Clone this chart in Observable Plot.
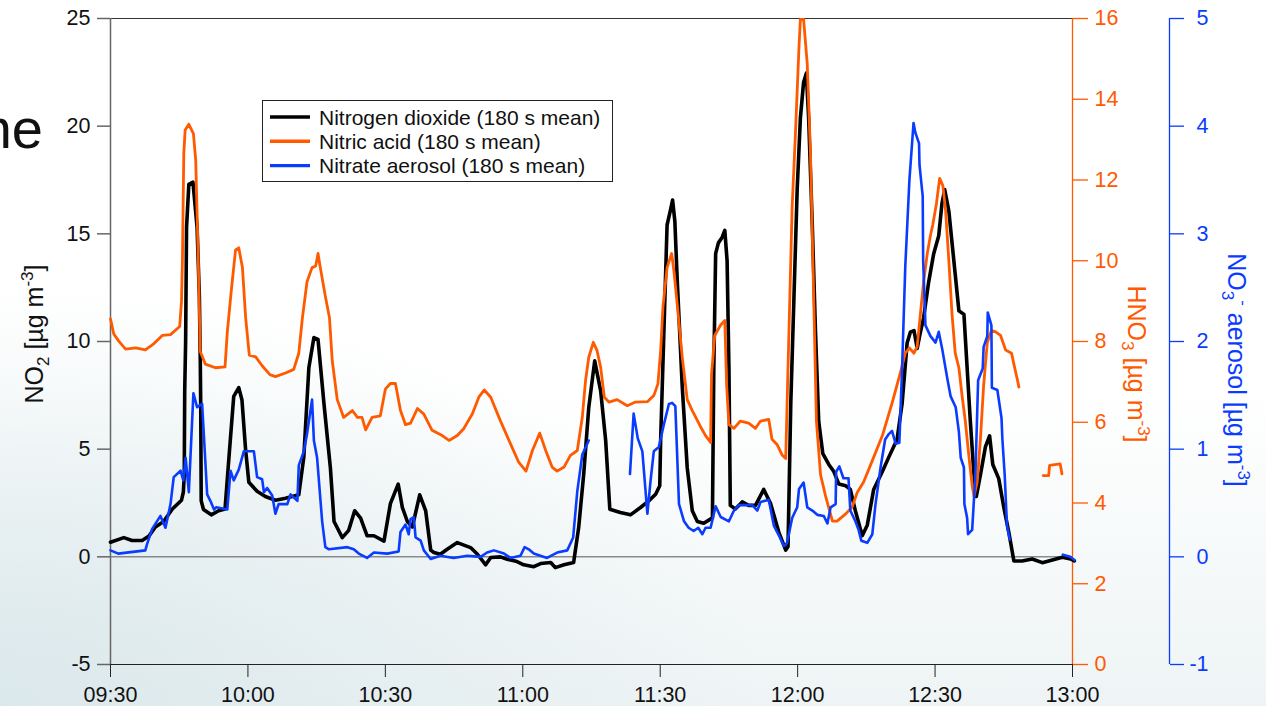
<!DOCTYPE html>
<html><head><meta charset="utf-8">
<script src="https://cdn.jsdelivr.net/npm/d3@7"></script>
<script src="https://cdn.jsdelivr.net/npm/@observablehq/plot@0.6"></script>
<style>
html,body{margin:0;padding:0;width:1266px;height:706px;overflow:hidden;}
body{background:
  radial-gradient(ellipse 760px 420px at 0% 100%, #dbe8eb 0%, rgba(255,255,255,0) 100%),
  linear-gradient(to bottom, #ffffff 0%, #ffffff 55%, #eef4f5 100%);
  font-family:"Liberation Sans", Arial, sans-serif;}
#chart{position:absolute;left:0;top:0;}
</style></head><body><div id="chart"></div>
<script>
// ---- data: [minutes after 09:30, value] ----
const no2Series = [[0,0.68],[2.9,0.89],[4.7,0.76],[6.9,0.76],[8.4,0.97],[9.8,1.39],[11.6,1.64],[13.5,2.22],[15.5,2.63],[15.9,3.0],[16.1,3.8],[16.2,7.7],[16.4,10.0],[16.6,15.3],[17.1,17.3],[18.0,17.4],[18.9,15.3],[19.4,12.1],[19.6,9.1],[19.7,6.9],[19.8,2.6],[20.3,2.2],[22.0,1.95],[23.6,2.14],[25.0,2.22],[25.8,4.46],[26.9,7.45],[28.0,7.86],[28.7,7.28],[29.5,4.96],[30.2,3.46],[32.0,3.05],[33.8,2.80],[36.0,2.63],[38.2,2.72],[41.1,2.88],[42.2,4.63],[43.3,8.78],[44.4,10.18],[45.3,10.10],[46.6,7.11],[48.0,4.13],[48.8,1.64],[50.6,0.89],[52.0,1.23],[53.3,2.14],[54.6,1.80],[56.0,0.98],[57.5,0.98],[59.7,0.73],[61.1,2.47],[62.8,3.38],[63.7,2.30],[64.8,1.64],[65.9,1.39],[67.5,2.88],[68.8,2.14],[69.9,0.31],[70.6,0.2],[72.0,0.12],[73.5,0.35],[75.7,0.66],[78.6,0.43],[80.1,0.12],[81.9,-0.37],[83.0,-0.03],[85.1,0],[86.6,-0.11],[88.5,-0.2],[90.2,-0.37],[92.4,-0.46],[93.9,-0.31],[96.1,-0.26],[97.1,-0.5],[99.0,-0.37],[101.1,-0.26],[102.2,1.36],[103.3,3.84],[104.4,6.93],[105.7,9.10],[107.0,7.71],[108.1,5.39],[109.0,2.21],[111.3,2.06],[113.5,1.95],[115.7,2.29],[117.5,2.6],[119.0,2.91],[119.9,3.30],[120.1,5.45],[120.8,10.43],[121.5,15.41],[122.2,16.07],[122.7,16.57],[123.2,15.57],[123.7,12.92],[124.8,7.94],[125.9,4.13],[127.0,2.14],[128.1,1.64],[129.5,1.56],[131.4,1.81],[131.7,8.77],[132.1,14.08],[132.7,14.58],[133.5,14.83],[134.1,15.16],[134.6,13.75],[135.0,8.77],[135.3,2.39],[136.4,2.22],[137.9,2.55],[139.3,2.39],[140.8,2.39],[142.6,3.13],[144.1,2.47],[145.9,1.14],[147.4,0.31],[147.9,0.48],[148.5,7.11],[149.2,12.09],[149.9,17.07],[150.6,20.38],[151.3,22.04],[151.9,22.46],[152.4,20.38],[153.2,15.41],[153.9,10.43],[154.6,6.28],[155.5,4.79],[156.8,4.29],[157.9,3.96],[159.0,3.38],[160.5,3.30],[161.5,3.13],[162.6,2.14],[164.1,0.98],[165.2,1.47],[166.6,3.13],[168.5,3.96],[169.9,4.63],[171.7,5.45],[172.8,7.11],[173.9,9.93],[174.6,10.43],[175.4,10.51],[176.1,9.68],[176.8,10.43],[177.5,11.10],[178.6,12.76],[179.7,14.08],[180.8,14.91],[181.5,16.40],[182.1,17.06],[183.0,16.07],[184.1,13.75],[185.2,11.43],[186.3,11.26],[187.0,8.77],[187.7,6.28],[188.5,3.80],[189.0,2.80],[189.9,3.80],[191.0,5.12],[191.9,5.62],[192.6,4.29],[193.9,3.63],[195.0,2.30],[196.1,1.14],[197.2,-0.19],[199.0,-0.19],[201.2,-0.10],[203.4,-0.27],[205.6,-0.15],[207.8,-0.02],[209.6,-0.1],[210.4,-0.19]];

const hno3Series = [[0,8.56],[0.7,8.19],[1.8,8.01],[3.3,7.81],[5.5,7.84],[7.6,7.79],[9.5,7.95],[11.3,8.15],[13.1,8.17],[15.1,8.37],[15.5,9.0],[15.7,10.0],[16.0,12.66],[16.3,13.24],[17.1,13.38],[18.1,13.15],[18.6,12.5],[19.1,10.3],[19.6,7.75],[20.7,7.44],[22.9,7.35],[25.0,7.37],[25.5,8.24],[26.4,9.30],[27.3,10.27],[28.0,10.32],[28.8,9.83],[29.5,8.59],[30.3,7.66],[31.7,7.62],[33.1,7.40],[34.8,7.18],[36.0,7.13],[38.2,7.22],[40.0,7.31],[41.1,7.71],[41.9,8.59],[42.9,9.48],[44.0,9.83],[44.8,9.87],[45.3,10.18],[45.8,9.83],[46.9,9.12],[47.8,8.59],[48.4,7.53],[49.5,6.56],[50.9,6.12],[52.8,6.29],[53.9,6.12],[54.9,6.12],[55.7,5.81],[57.1,6.12],[58.9,6.16],[60.0,6.82],[61.1,6.96],[62.2,6.96],[63.3,6.29],[64.4,5.94],[65.5,5.98],[67.0,6.34],[68.4,6.20],[70.2,5.80],[72.4,5.67],[73.9,5.55],[75.7,5.67],[77.1,5.84],[79.0,6.21],[80.4,6.62],[81.6,6.80],[83.0,6.62],[85.1,6.04],[87.3,5.47],[89.1,5.01],[90.7,4.79],[92.1,5.30],[93.7,5.73],[95.0,5.30],[96.4,4.89],[97.5,4.79],[99.0,4.89],[100.4,5.18],[101.9,5.30],[103.0,6.13],[103.7,7.03],[104.4,7.61],[105.4,7.98],[106.2,7.78],[107.0,7.36],[107.8,6.62],[108.8,6.50],[110.6,6.56],[112.8,6.41],[114.6,6.50],[117.2,6.51],[118.6,6.66],[119.5,6.95],[120.1,7.78],[120.6,8.86],[121.5,9.83],[122.5,10.18],[123.0,9.74],[123.7,8.94],[124.8,7.62],[125.9,6.56],[127.0,6.29],[128.8,5.89],[129.9,5.67],[131.0,5.50],[131.2,7.18],[131.9,8.15],[133.2,8.41],[134.1,8.52],[134.5,6.91],[135.0,5.94],[136.1,5.85],[137.5,6.03],[139.3,5.98],[140.8,5.85],[141.9,6.03],[143.7,6.07],[144.4,5.58],[145.5,5.45],[146.6,5.19],[147.4,5.10],[147.7,6.47],[148.2,8.68],[148.8,11.33],[149.5,13.10],[150.3,15.31],[150.6,15.98],[151.3,15.98],[152.1,14.87],[152.8,12.66],[153.5,9.12],[154.1,6.03],[155.0,4.70],[156.1,4.17],[157.6,3.55],[158.6,3.55],[160.5,3.73],[161.9,3.90],[163.0,4.26],[164.4,4.52],[166.3,5.05],[168.5,5.67],[170.6,6.47],[172.5,7.26],[173.5,7.71],[174.4,7.84],[175.4,7.71],[176.1,7.88],[176.8,8.68],[177.5,9.48],[178.3,10.18],[179.0,10.63],[179.5,10.89],[180.3,11.42],[181.0,12.04],[181.7,11.86],[182.3,11.24],[183.0,10.01],[183.7,8.68],[184.4,7.71],[185.2,7.35],[185.9,6.65],[186.6,6.03],[187.4,5.14],[188.1,4.43],[188.5,4.17],[189.2,4.52],[189.9,5.58],[190.6,6.91],[191.4,7.97],[192.3,8.28],[193.2,8.24],[194.3,8.15],[195.4,7.79],[196.7,7.71],[197.2,7.44],[197.9,7.09],[198.3,6.87],[201,NaN],[203.6,4.68],[204.8,4.68],[205.0,4.93],[207.3,4.97],[207.7,4.72]];

const no3Series = [[0,0.06],[1.7,0.03],[7.6,0.06],[8.0,0.12],[9.1,0.26],[10.9,0.38],[12.0,0.27],[13.1,0.49],[13.8,0.74],[15.3,0.80],[15.9,0.71],[16.4,0.92],[17.1,0.60],[18.1,1.52],[18.9,1.39],[20.0,1.42],[21.1,0.58],[21.8,0.52],[22.6,0.44],[23.1,0.46],[25.5,0.44],[26.2,0.80],[26.9,0.71],[28.0,0.81],[29.1,0.98],[31.3,0.98],[32.0,0.74],[33.1,0.72],[33.5,0.60],[34.2,0.64],[35.3,0.57],[36.0,0.40],[36.7,0.49],[38.6,0.49],[39.3,0.58],[40.8,0.52],[41.1,0.85],[42.2,0.98],[42.9,1.14],[44.0,1.46],[44.4,1.08],[45.1,0.92],[46.2,0.33],[46.9,0.09],[47.7,0.07],[51.7,0.09],[53.1,0.07],[54.2,0.03],[56.0,-0.01],[57.5,0.04],[60.4,0.03],[62.9,0.05],[63.3,0.23],[64.4,0.30],[65.1,0.21],[65.5,0.35],[66.2,0.37],[66.6,0.18],[67.7,0.15],[68.4,0.06],[69.9,-0.02],[72.0,0.01],[74.9,-0.01],[77.9,0.01],[80.8,0],[82.2,0.04],[83.7,0.06],[85.9,0.03],[87.3,-0.01],[89.5,0.01],[90.4,0.09],[91.3,0.07],[92.4,0.03],[95.3,-0.01],[97.5,0.04],[99.7,0.06],[101.0,0.18],[101.9,0.61],[103.0,0.95],[104.4,1.08],[109,NaN],[113.4,0.77],[114.2,1.33],[115.1,1.10],[116.1,0.98],[117.2,0.40],[117.9,0.71],[118.6,0.98],[119.7,1.02],[120.8,1.23],[121.9,1.42],[122.6,1.43],[123.3,1.40],[124.1,0.49],[125.2,0.33],[126.2,0.27],[127.3,0.24],[128.3,0.27],[129.2,0.21],[129.9,0.27],[131.0,0.27],[132.1,0.47],[133.2,0.37],[135.0,0.33],[136.1,0.43],[137.2,0.48],[138.6,0.48],[140.1,0.48],[141.2,0.43],[141.9,0.51],[143.7,0.53],[144.8,0.29],[145.9,0.20],[147.0,0.10],[147.7,0.13],[148.8,0.36],[149.9,0.46],[150.3,0.63],[151.3,0.69],[152.1,0.46],[153.2,0.43],[154.3,0.39],[155.7,0.38],[156.5,0.31],[157.2,0.46],[158.3,0.49],[158.4,0.79],[159.1,0.84],[160.0,0.73],[161.1,0.73],[161.5,0.43],[162.6,0.33],[163.3,0.25],[163.9,0.15],[165.2,0.13],[166.3,0.21],[167.0,0.49],[168.1,0.83],[169.1,1.09],[169.9,1.14],[170.6,1.17],[171.4,1.05],[172.2,1.06],[172.8,1.75],[173.5,2.70],[174.4,3.50],[175.3,4.03],[175.7,3.94],[176.5,3.84],[176.6,3.64],[177.3,3.35],[177.4,2.75],[177.9,2.15],[179.0,2.05],[180.1,1.99],[180.8,2.09],[181.6,1.92],[182.7,1.65],[183.4,1.49],[184.5,1.39],[185.2,1.16],[185.6,0.92],[186.3,0.83],[186.4,0.49],[187.0,0.36],[187.2,0.21],[188.1,0.25],[188.8,0.76],[189.4,1.64],[190.4,1.75],[190.6,1.95],[191.4,2.05],[191.5,2.27],[192.3,2.15],[192.4,1.57],[193.6,1.55],[194.5,1.29],[194.7,1.09],[195.2,0.76],[195.7,0.29],[196.3,0.16],[200,NaN],[207.9,0.02],[209.5,0.0],[210.4,-0.03]];

const xTickMinutes = [0, 30, 60, 90, 120, 150, 180, 210];
const no2Ticks = [-5, 0, 5, 10, 15, 20, 25];
const hno3Ticks = [0, 2, 4, 6, 8, 10, 12, 14, 16];
const no3Ticks = [-1, 0, 1, 2, 3, 4, 5];
const legendLabels = ["Nitrogen dioxide (180 s mean)", "Nitric acid (180 s mean)", "Nitrate aerosol (180 s mean)"];
const seriesColors = ["#000000", "#ff5a00", "#0a3cff"];

// ---- scales helpers ----
const ORANGE = seriesColors[1], BLUE = seriesColors[2];
const T0 = Date.UTC(2000, 0, 1, 9, 30);
const toTime = m => new Date(T0 + m * 60000);
const hnoToY = v => v * 30 / 16 - 5;   // HNO3 0..16 -> NO2 -5..25
const no3ToY = v => v * 5;             // NO3 -1..5 -> NO2 -5..25
const FONT = "'Liberation Sans', Arial, Helvetica, sans-serif";

const chart = Plot.plot({
  width: 1266, height: 706,
  marginLeft: 110, marginRight: 194, marginTop: 18, marginBottom: 42,
  style: {background: "transparent", fontFamily: FONT, fontSize: "21.5px", color: "#111", overflow: "visible"},
  x: {type: "utc", domain: [toTime(0), toTime(210)]},
  y: {domain: [-5, 25]},
  marks: [
    Plot.ruleY([0], {stroke: "#555", strokeWidth: 1}),
    Plot.ruleY([25], {stroke: "#333", strokeWidth: 1}),
    Plot.ruleY([-5], {stroke: "#222", strokeWidth: 1.2}),
    Plot.ruleX([toTime(0)], {stroke: "#666", strokeWidth: 1.5}),
    Plot.ruleX([toTime(210)], {stroke: ORANGE, strokeWidth: 1.3}),
    Plot.ruleX([toTime(210)], {stroke: BLUE, strokeWidth: 1.3, dx: 97}),
    Plot.axisX(xTickMinutes.map(toTime), {tickFormat: d3.utcFormat("%H:%M"), tickSize: 13, tickPadding: 9, label: null, stroke: "#222", fill: "#111"}),
    Plot.axisY(no2Ticks, {anchor: "left", tickSize: 13, tickPadding: 7, tickFormat: d => String(d), label: null, stroke: "#666", strokeWidth: 1.5, fill: "#111"}),
    Plot.axisY(hno3Ticks.map(hnoToY), {anchor: "right", tickSize: 15, tickPadding: 7, tickFormat: d => String(Math.round((d + 5) * 16 / 30)), label: null, stroke: ORANGE, strokeWidth: 1.3, fill: ORANGE}),
    Plot.axisY(no3Ticks.map(no3ToY), {anchor: "right", dx: 97, tickSize: 14, tickPadding: 25, textAnchor: "end", tickFormat: d => String(Math.round(d / 5)), label: null, stroke: BLUE, strokeWidth: 1.3, fill: BLUE}),
    Plot.line(no2Series, {x: d => toTime(d[0]), y: d => d[1], stroke: seriesColors[0], strokeWidth: 3.6, strokeLinejoin: "round"}),
    Plot.line(hno3Series, {x: d => toTime(d[0]), y: d => hnoToY(d[1]), stroke: ORANGE, strokeWidth: 2.8, strokeLinejoin: "round"}),
    Plot.line(no3Series, {x: d => toTime(d[0]), y: d => no3ToY(d[1]), stroke: BLUE, strokeWidth: 2.6, strokeLinejoin: "round"})
  ]
});
document.getElementById("chart").appendChild(chart);

const svg = d3.select(chart);

// axis titles with sub/superscripts
function addLabel(parts, x, y, rot, color) {
  const t = svg.append("text")
    .attr("transform", `translate(${x},${y}) rotate(${rot})`)
    .attr("text-anchor", "middle")
    .attr("fill", color)
    .style("font-family", FONT)
    .style("font-size", "25px");
  let shift = 0;
  parts.forEach(p => {
    const target = p.sub ? 6 : p.sup ? -10 : 0;
    const ts = t.append("tspan").text(p.t).attr("dy", target - shift);
    if (p.sub || p.sup) ts.style("font-size", "17px");
    shift = target;
  });
}
addLabel([{t: "NO"}, {t: "2", sub: true}, {t: " [µg m"}, {t: "-3", sup: true}, {t: "]"}], 43, 334, -90, "#111");
addLabel([{t: "HNO"}, {t: "3", sub: true}, {t: " [µg m"}, {t: "-3", sup: true}, {t: "]"}], 1128, 364, 90, ORANGE);
addLabel([{t: "NO"}, {t: "3", sub: true}, {t: "-", sup: true}, {t: " aerosol [µg m"}, {t: "-3", sup: true}, {t: "]"}], 1228, 370, 90, BLUE);

// legend
const lg = svg.append("g");
lg.append("rect").attr("x", 262.5).attr("y", 100.5).attr("width", 350).attr("height", 81)
  .attr("fill", "#fff").attr("stroke", "#222").attr("stroke-width", 1);
legendLabels.forEach((lab, i) => {
  const cy = 117 + i * 24.3;
  lg.append("line").attr("x1", 270).attr("x2", 310).attr("y1", cy).attr("y2", cy)
    .attr("stroke", seriesColors[i]).attr("stroke-width", 3.4);
  lg.append("text").attr("x", 319).attr("y", cy + 7.8).attr("text-anchor", "start").text(lab)
    .attr("fill", "#111").style("font-family", FONT).style("font-size", "21px");
});

// fragment of slide title at left edge
svg.append("text").attr("x", 43).attr("y", 148).attr("text-anchor", "end").text("ne")
  .attr("fill", "#111").style("font-family", FONT).style("font-size", "56px");
</script></body></html>
